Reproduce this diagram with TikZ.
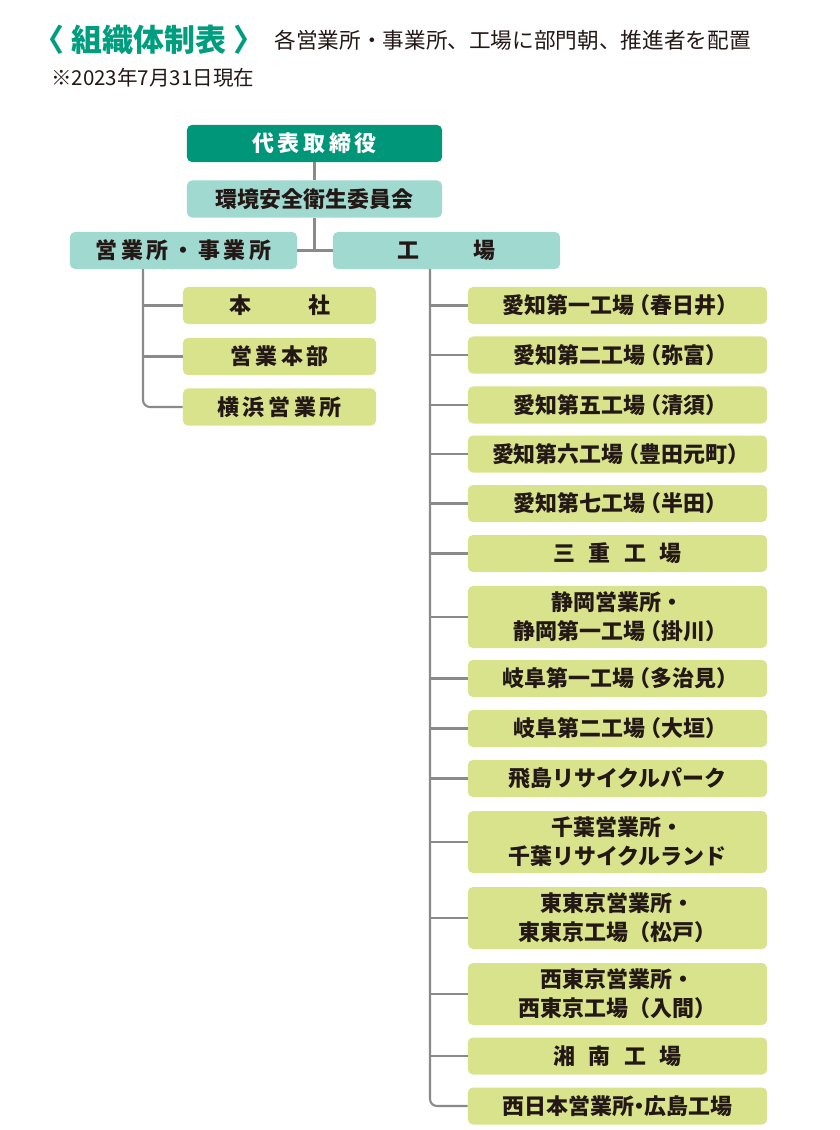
\documentclass[tikz,border=0pt]{standalone}
\usepackage{fontspec}
\setmainfont{Noto Sans CJK JP}
\usetikzlibrary{positioning}
\definecolor{ceocolor}{RGB}{0,150,122}
\definecolor{divcolor}{RGB}{160,217,208}
\definecolor{sitecolor}{RGB}{217,227,140}
\definecolor{linkcolor}{RGB}{138,138,138}
\definecolor{titlecolor}{RGB}{0,158,126}
\definecolor{inkcolor}{RGB}{35,24,21}
\newcommand{\popen}{\kern-0.28em（}
\newcommand{\pclose}{）\kern-0.28em}

\begin{document}
\begin{tikzpicture}[
    x=0.025cm, y=-0.025cm,
    orgbox/.style={fill=#1, rounded corners=3.5pt, inner sep=0pt, minimum height=0.925cm, align=center, text=inkcolor, font=\fontsize{15.6}{20.5}\selectfont\bfseries},
    site/.style={orgbox=sitecolor, minimum width=7.475cm},
    office/.style={orgbox=sitecolor, minimum width=4.825cm},
    tall/.style={minimum height=1.55cm},
    link/.style={draw=linkcolor, line width=1.5pt}
]
    \useasboundingbox (0,0) rectangle (840,1130);

    % Heading
    \node[anchor=west, inner sep=0pt, text=titlecolor, font=\fontsize{22}{24}\selectfont\bfseries] (title) at (33,40) {〈 組織体制表 〉};
    \node[inner sep=0pt, text=inkcolor, font=\fontsize{15.4}{18}\selectfont, right=7pt of title] (subtitle) {各営業所・事業所、工場に部門朝、推進者を配置};
    \node[anchor=west, inner sep=0pt, text=inkcolor, font=\fontsize{14.6}{16}\selectfont] (date) at (51,78) {※2023年7月31日現在};

    % Top level
    \node[orgbox=ceocolor, minimum width=6.375cm, text=white] (ceo) at (314.5,143.5) {代\,表\,取\,締\,役};
    \node[orgbox=divcolor, minimum width=6.375cm] (committee) at (314.5,199) {環境安全衛生委員会};

    % Divisions
    \node[orgbox=divcolor, minimum width=5.675cm] (sales) at (183.5,250.5) {営\,業\,所\,・\,事\,業\,所};
    \node[orgbox=divcolor, minimum width=5.675cm] (factory) at (446.5,250.5) {工\hspace{2.5em}場};
    \coordinate (stop) at (143,269);
    \coordinate (ftop) at (430,269);

    % Offices
    \node[office] (hq) at (279.5,305.5) {本\hspace{2.6em}社};
    \node[office] (salesdept) at (279.5,356.5) {営\,業\,本\,部};
    \node[office] (yokohama) at (279.5,407) {横\,浜\,営\,業\,所};

    % Factories
    \node[site] (f1) at (617.5,305.5) {愛知第一工場\popen 春日井\pclose};
    \node[site] (f2) at (617.5,355) {愛知第二工場\popen 弥富\pclose};
    \node[site] (f3) at (617.5,405) {愛知第五工場\popen 清須\pclose};
    \node[site] (f4) at (617.5,454) {愛知第六工場\popen 豊田元町\pclose};
    \node[site] (f5) at (617.5,503.5) {愛知第七工場\popen 半田\pclose};
    \node[site] (f6) at (617.5,553.5) {三\hspace{0.6em}重\hspace{0.6em}工\hspace{0.6em}場};
    \node[site, tall] (f7) at (617.5,617) {静岡営業所・\\静岡第一工場\popen 掛川\pclose};
    \node[site] (f8) at (617.5,678.5) {岐阜第一工場\popen 多治見\pclose};
    \node[site] (f9) at (617.5,728.5) {岐阜第二工場\popen 大垣\pclose};
    \node[site] (f10) at (617.5,778.5) {飛島リサイクルパーク};
    \node[site, tall] (f11) at (617.5,842) {千葉営業所・\\千葉リサイクルランド};
    \node[site, tall] (f12) at (617.5,918) {東東京営業所・\\東東京工場（松戸）};
    \node[site, tall] (f13) at (617.5,994) {西東京営業所・\\西東京工場（入間）};
    \node[site] (f14) at (617.5,1056) {湘\hspace{0.6em}南\hspace{0.6em}工\hspace{0.6em}場};
    \node[site] (f15) at (617.5,1106) {西日本営業所\kern-0.25em・\kern-0.25em 広島工場};

    % Connections
    \draw[link] (ceo) -- (committee);
    \draw[link] (sales) -- (factory);
    \draw[link] (committee.south) -- (committee.south |- sales.east);

    \draw[link, rounded corners=5pt] (stop) |- (yokohama.west);
    \draw[link] (stop |- hq.west) -- (hq.west);
    \draw[link] (stop |- salesdept.west) -- (salesdept.west);

    \draw[link, rounded corners=5pt] (ftop) |- (f15.west);
    \draw[link] (ftop |- f1.west) -- (f1.west);
    \draw[link] (ftop |- f2.west) -- (f2.west);
    \draw[link] (ftop |- f3.west) -- (f3.west);
    \draw[link] (ftop |- f4.west) -- (f4.west);
    \draw[link] (ftop |- f5.west) -- (f5.west);
    \draw[link] (ftop |- f6.west) -- (f6.west);
    \draw[link] (ftop |- f7.west) -- (f7.west);
    \draw[link] (ftop |- f8.west) -- (f8.west);
    \draw[link] (ftop |- f9.west) -- (f9.west);
    \draw[link] (ftop |- f10.west) -- (f10.west);
    \draw[link] (ftop |- f11.west) -- (f11.west);
    \draw[link] (ftop |- f12.west) -- (f12.west);
    \draw[link] (ftop |- f13.west) -- (f13.west);
    \draw[link] (ftop |- f14.west) -- (f14.west);
\end{tikzpicture}
\end{document}
